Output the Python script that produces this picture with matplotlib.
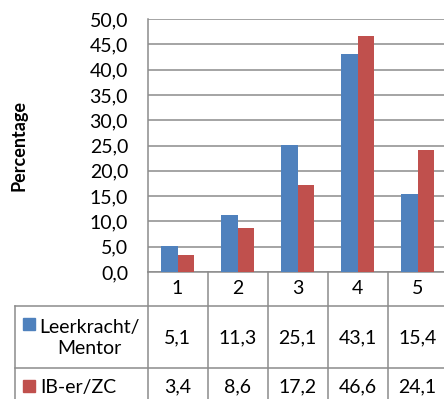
import numpy as np
import matplotlib
matplotlib.use("Agg")
from matplotlib import pyplot as plt
from matplotlib.transforms import blended_transform_factory

categories = ["1", "2", "3", "4", "5"]
series_names = ["Leerkracht/\nMentor", "IB-er/ZC"]
leerkracht = [5.1, 11.3, 25.1, 43.1, 15.4]
ib_er = [3.4, 8.6, 17.2, 46.6, 24.1]
yticks = [0, 5, 10, 15, 20, 25, 30, 35, 40, 45, 50]

blue = "#4F81BD"
red = "#C0504D"
grey = "#8C8C8C"
plt.rcParams["font.family"] = ["Lato", "DejaVu Sans"]

W, H = 444, 399
fig = plt.figure(figsize=(W / 100, H / 100), dpi=100)

# pixel layout of the plot area
x0, x1 = 147.5, 447.5
y_top, y_axis = 19, 272
ax = fig.add_axes([x0 / W, 1 - y_axis / H, (x1 - x0) / W, (y_axis - y_top) / H])

x = np.arange(len(categories))
bw = 0.28
ax.bar(x - bw / 2, leerkracht, bw, color=blue, zorder=3)
ax.bar(x + bw / 2, ib_er, bw, color=red, zorder=3)

ax.set_xlim(-0.5, len(categories) - 0.5)
ax.set_ylim(0, 50)
ax.set_yticks(yticks)
ax.set_yticklabels([f"{v:.1f}".replace(".", ",") for v in yticks], fontsize=14)
ax.tick_params(axis="y", length=0, pad=14)
ax.set_xticks([])
ax.grid(axis="y", color=grey, linewidth=1.1, zorder=0)
for s in ["top", "right"]:
    ax.spines[s].set_visible(False)
for s in ["left", "bottom"]:
    ax.spines[s].set_color(grey)
    ax.spines[s].set_linewidth(1.1)
ax.set_ylabel("Percentage", fontsize=13, fontweight="bold", va="center")
ax.yaxis.set_label_coords((18.5 - x0) / (x1 - x0), 0.5)

# data table below the chart, drawn in pixel coordinates
tab = fig.add_axes([0, 0, 1, 1], facecolor="none")
tab.set_xlim(0, W)
tab.set_ylim(H, 0)
tab.axis("off")
tr = blended_transform_factory(ax.transData, tab.transData)

row_lines = [y_axis, 306, 368]
row_centers = [289, 338, 387]
legend_left = 15

for yl in row_lines[1:]:
    tab.plot([legend_left, W], [yl, yl], color=grey, lw=1.1)
tab.plot([legend_left, legend_left], [row_lines[1], H], color=grey, lw=1.1)
for b in np.arange(len(categories) + 1) - 0.5:
    tab.plot([b, b], [y_axis, H], color=grey, lw=1.1, transform=tr, clip_on=False)

for i, c in enumerate(categories):
    tab.text(i, row_centers[0], c, transform=tr, ha="center", va="center", fontsize=14)
    tab.text(i, row_centers[1], f"{leerkracht[i]:.1f}".replace(".", ","),
             transform=tr, ha="center", va="center", fontsize=14)
    tab.text(i, row_centers[2], f"{ib_er[i]:.1f}".replace(".", ","),
             transform=tr, ha="center", va="center", fontsize=14)

# legend keys
tab.add_patch(plt.Rectangle((23, 318), 11.5, 12, color=blue))
tab.add_patch(plt.Rectangle((23, 380), 11.5, 12, color=red))
tab.text(89, row_centers[1], series_names[0], ha="center", va="center",
         fontsize=14, multialignment="center", linespacing=1.3)
tab.text(40, row_centers[2], series_names[1], ha="left", va="center", fontsize=14)

fig.savefig("out.png", dpi=100)
